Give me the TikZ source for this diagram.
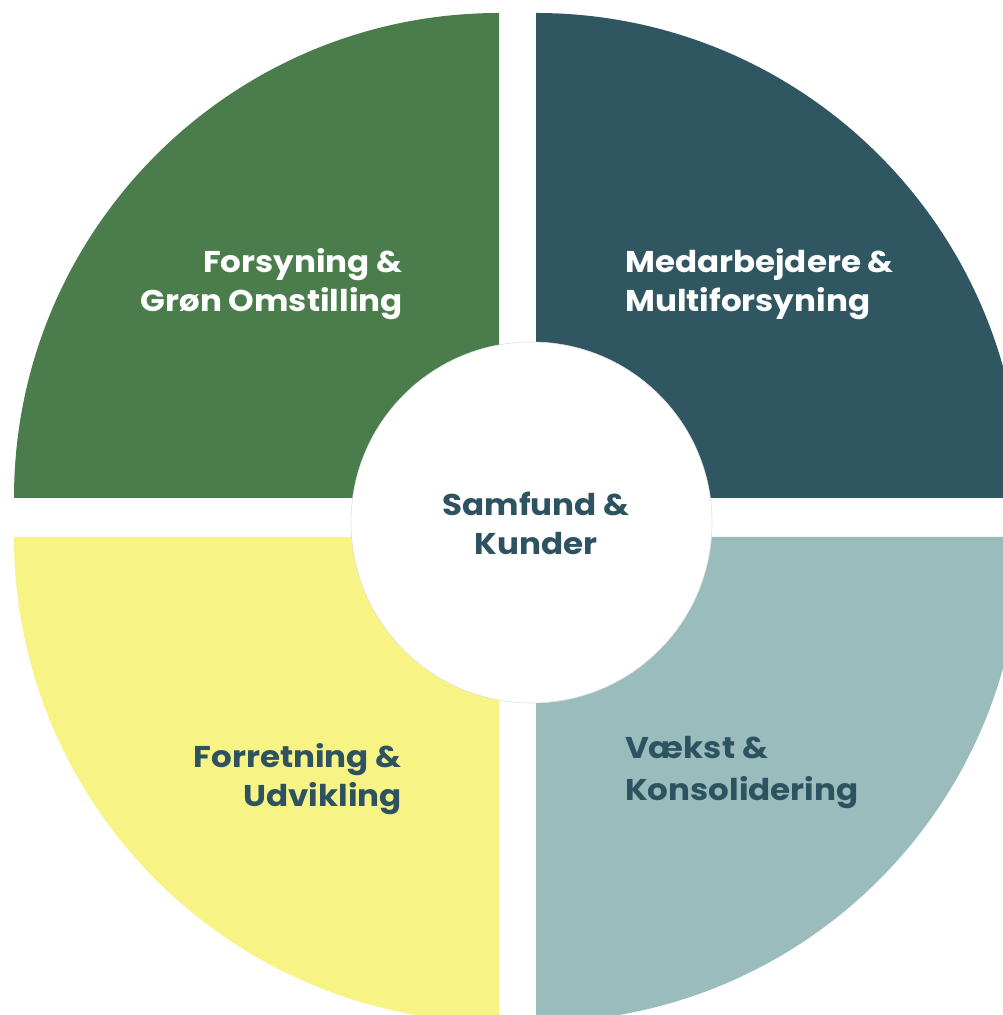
\documentclass[tikz,border=0pt]{standalone}
\usepackage{fontspec}
\setmainfont{Poppins}[FakeStretch=1.085]
\definecolor{qgreen}{RGB}{74,124,76}
\definecolor{qdark}{RGB}{48,86,97}
\definecolor{qyellow}{RGB}{247,243,133}
\definecolor{qlight}{RGB}{154,188,189}
\definecolor{qtext}{RGB}{46,83,96}
\tikzset{
  lbl/.style={font=\fontsize{30}{36}\selectfont\bfseries, inner sep=0pt},
  lblwhite/.style={lbl, text=white},
  lbldark/.style={lbl, text=qtext},
}
\begin{document}
\begin{tikzpicture}[x=1pt,y=1pt]
\useasboundingbox (0,0) rectangle (1003,1015);
\fill[white] (0,0) rectangle (1003,1015);
\begin{scope}
\clip (0,0) rectangle (1003,1015);
\fill[qgreen] (499,517) -- (14,517) arc[start angle=180,end angle=90,radius=485] -- cycle;
\fill[qdark] (536,517) -- (536,1002) arc[start angle=90,end angle=0,radius=485] -- cycle;
\fill[qyellow] (499,478) -- (14,478) arc[start angle=180,end angle=270,radius=485] -- cycle;
\fill[qlight] (536,478) -- (1021,478) arc[start angle=0,end angle=-90,radius=485] -- cycle;
\end{scope}
\node[circle, fill=white, draw=black!12, line width=0.6pt, minimum size=361pt, inner sep=0pt] (hub) at (531.5,492.5) {};
\node[lblwhite, anchor=base east] (fg1) at (403,742) {Forsyning \&};
\node[lblwhite, anchor=base east] (fg2) at (403,703.5) {Grøn Omstilling};
\node[lblwhite, anchor=base west] (mm1) at (625,742) {Medarbejdere \&};
\node[lblwhite, anchor=base west] (mm2) at (625,703.5) {Multiforsyning};
\node[lbldark, anchor=base] (sk1) at (536,499.3) {Samfund \&};
\node[lbldark, anchor=base] (sk2) at (536,460) {Kunder};
\node[lbldark, anchor=base east] (fu1) at (402,247) {Forretning \&};
\node[lbldark, anchor=base east] (fu2) at (402,208.5) {Udvikling};
\node[lbldark, anchor=base west] (vk1) at (625,256) {Vækst \&};
\node[lbldark, anchor=base west] (vk2) at (625,214) {Konsolidering};
\end{tikzpicture}
\end{document}
